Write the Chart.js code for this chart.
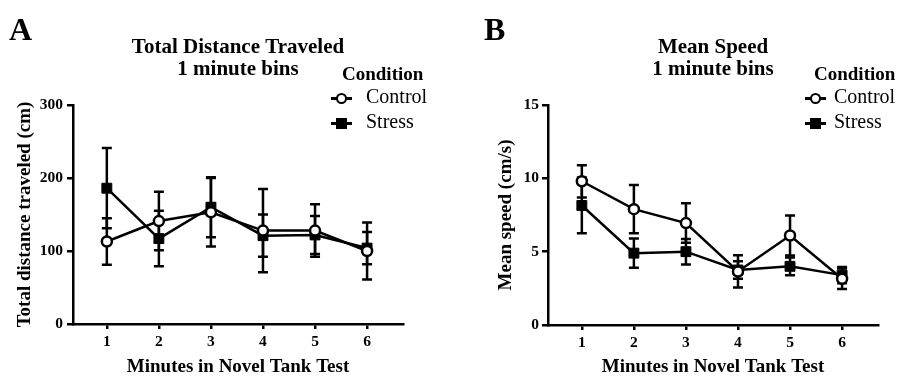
<!DOCTYPE html>
<html>
<head>
<meta charset="utf-8">
<script src="https://cdn.jsdelivr.net/npm/chart.js@4/dist/chart.umd.min.js"></script>
<style>
  body { margin: 0; background: #fff; }
  #wrap { position: relative; width: 903px; height: 377px; font-family: 'Liberation Serif', 'Times New Roman', serif; color: #000; }
  canvas { position: absolute; top: 0; }
  .abs { position: absolute; line-height: 1; white-space: nowrap; }
  .letter { font-weight: bold; font-size: 32px; }
  .legTitle { font-weight: bold; font-size: 19px; }
  .legItem { font-size: 20px; }
  .mk { position: absolute; height: 2.5px; width: 21px; background: #000; }
  .mk span { position: absolute; left: 5px; top: -4.5px; width: 11px; height: 11px; box-sizing: border-box; }
  .mk .circ { border: 2.5px solid #000; border-radius: 50%; background: #fff; }
  .mk .sq { background: #000; }
</style>
</head>
<body>
<div id="wrap">
  <canvas id="chartA" width="451" height="377" style="left:0"></canvas>
  <canvas id="chartB" width="452" height="377" style="left:451px"></canvas>
  <div class="abs letter" style="left:9px;top:13px">A</div>
  <div class="abs letter" style="left:484px;top:13px">B</div>
  <div id="legA"></div>
  <div id="legB"></div>
</div>
<script>
const minutes = [1, 2, 3, 4, 5, 6];
const conditions = ['Control', 'Stress'];

// panel A - total distance (cm), mean and error
const controlDistance = [113, 141, 153, 128, 128, 100];
const controlDistanceErr = [32, 40, 47, 57, 36, 39];
const stressDistance = [186, 117, 160, 121, 122, 104];
const stressDistanceErr = [55, 38, 41, 29, 26, 22];
const distanceTicks = [0, 100, 200, 300];

// panel B - mean speed (cm/s)
const controlSpeed = [9.8, 7.9, 6.95, 3.65, 6.1, 3.15];
const controlSpeedErr = [1.1, 1.65, 1.35, 1.1, 1.36, 0.7];
const stressSpeed = [8.15, 4.9, 5.0, 3.75, 4.0, 3.4];
const stressSpeedErr = [1.9, 1.0, 0.87, 0.6, 0.6, 0.55];
const speedTicks = [0, 5, 10, 15];

const serif = "'Liberation Serif', 'Times New Roman', serif";
Chart.defaults.color = '#000';

const errorBars = {
  id: 'errorBars',
  beforeDatasetsDraw(chart) {
    const { ctx, scales: { x, y } } = chart;
    ctx.save();
    ctx.strokeStyle = '#000';
    ctx.lineWidth = 2.5;
    chart.data.datasets.forEach(ds => {
      ds.data.forEach((p, i) => {
        const e = ds.errors[i];
        const px = x.getPixelForValue(p.x);
        const top = y.getPixelForValue(p.y + e);
        const bot = y.getPixelForValue(p.y - e);
        ctx.beginPath();
        ctx.moveTo(px, top); ctx.lineTo(px, bot);
        ctx.moveTo(px - 5, top); ctx.lineTo(px + 5, top);
        ctx.moveTo(px - 5, bot); ctx.lineTo(px + 5, bot);
        ctx.stroke();
      });
    });
    ctx.restore();
  }
};

const toPoints = vals => vals.map((v, i) => ({ x: minutes[i], y: v }));

const makeChart = (el, cfg) => {
  const datasets = [
    {
      label: conditions[0],
      data: toPoints(cfg.control),
      errors: cfg.controlErr,
      borderColor: '#000',
      borderWidth: 2.5,
      pointStyle: 'circle',
      pointRadius: 5,
      pointBorderWidth: 2.5,
      pointBackgroundColor: '#fff',
      pointBorderColor: '#000',
      tension: 0
    },
    {
      label: conditions[1],
      data: toPoints(cfg.stress),
      errors: cfg.stressErr,
      borderColor: '#000',
      borderWidth: 2.5,
      pointStyle: 'rect',
      pointRadius: 7,
      pointBorderWidth: 1,
      pointBackgroundColor: '#000',
      pointBorderColor: '#000',
      tension: 0
    }
  ];

  return new Chart(el, {
    type: 'line',
    data: { datasets },
    options: {
      responsive: false,
      animation: false,
      devicePixelRatio: 1,
      layout: { padding: { left: 0, right: cfg.padRight, top: 0, bottom: 0 } },
      plugins: {
        legend: { display: false },
        tooltip: { enabled: false },
        title: {
          display: true,
          text: cfg.title,
          fullSize: false,
          color: '#000',
          font: { family: serif, size: 21, weight: 'bold', lineHeight: 1.05 },
          padding: { top: 37, bottom: 23.9 }
        }
      },
      scales: {
        x: {
          type: 'linear',
          min: 0.35,
          max: 6.69,
          afterBuildTicks: s => { s.ticks = minutes.map(v => ({ value: v })); },
          afterFit: s => { s.height = cfg.xHeight; },
          grid: { drawOnChartArea: false, color: '#000', lineWidth: 2.5, tickLength: 5 },
          border: { color: '#000', width: 2.5 },
          ticks: { font: { family: serif, size: 15.5, weight: 'bold' }, padding: 4, maxRotation: 0, autoSkip: false },
          title: {
            display: true,
            text: 'Minutes in Novel Tank Test',
            font: { family: serif, size: 19, weight: 'bold', lineHeight: 1 },
            padding: { top: 0, bottom: 0 }
          }
        },
        y: {
          min: cfg.yTicks[0],
          max: cfg.yTicks[cfg.yTicks.length - 1],
          afterBuildTicks: s => { s.ticks = cfg.yTicks.map(v => ({ value: v })); },
          afterFit: s => { s.width = cfg.yWidth; },
          grid: { drawOnChartArea: false, color: '#000', lineWidth: 2.5, tickLength: 6 },
          border: { color: '#000', width: 2.5 },
          ticks: { font: { family: serif, size: 15.5, weight: 'bold' }, padding: cfg.tickPad },
          title: {
            display: true,
            text: cfg.yTitle,
            font: { family: serif, size: 19, weight: 'bold', lineHeight: 1.2 },
            padding: { top: cfg.yTitlePad, bottom: 0 }
          }
        }
      }
    },
    plugins: [errorBars]
  });
};

makeChart(document.getElementById('chartA'), {
  title: ['Total Distance Traveled', '1 minute bins'],
  yTitle: 'Total distance traveled (cm)',
  control: controlDistance, controlErr: controlDistanceErr,
  stress: stressDistance, stressErr: stressDistanceErr,
  yTicks: distanceTicks,
  yWidth: 73, tickPad: 4, yTitlePad: 14, padRight: 48, xHeight: 53
});

makeChart(document.getElementById('chartB'), {
  title: ['Mean Speed', '1 minute bins'],
  yTitle: 'Mean speed (cm/s)',
  control: controlSpeed, controlErr: controlSpeedErr,
  stress: stressSpeed, stressErr: stressSpeedErr,
  yTicks: speedTicks,
  yWidth: 97, tickPad: 3, yTitlePad: 44, padRight: 25, xHeight: 52
});

// legends (html overlay, top right of each panel)
const buildLegend = (el, titleX, markX, textX) => {
  let html = '<div class="abs legTitle" style="left:' + titleX + 'px;top:64px">Condition</div>';
  const rows = [98, 123];
  conditions.forEach((name, i) => {
    const shape = i === 0 ? 'circ' : 'sq';
    html += '<div class="mk" style="left:' + markX + 'px;top:' + (rows[i] - 1) + 'px"><span class="' + shape + '"></span></div>';
    html += '<div class="abs legItem" style="left:' + textX + 'px;top:' + (rows[i] - 12) + 'px">' + name + '</div>';
  });
  el.innerHTML = html;
};
buildLegend(document.getElementById('legA'), 342, 331, 366);
buildLegend(document.getElementById('legB'), 814, 805, 834);
</script>
</body>
</html>
